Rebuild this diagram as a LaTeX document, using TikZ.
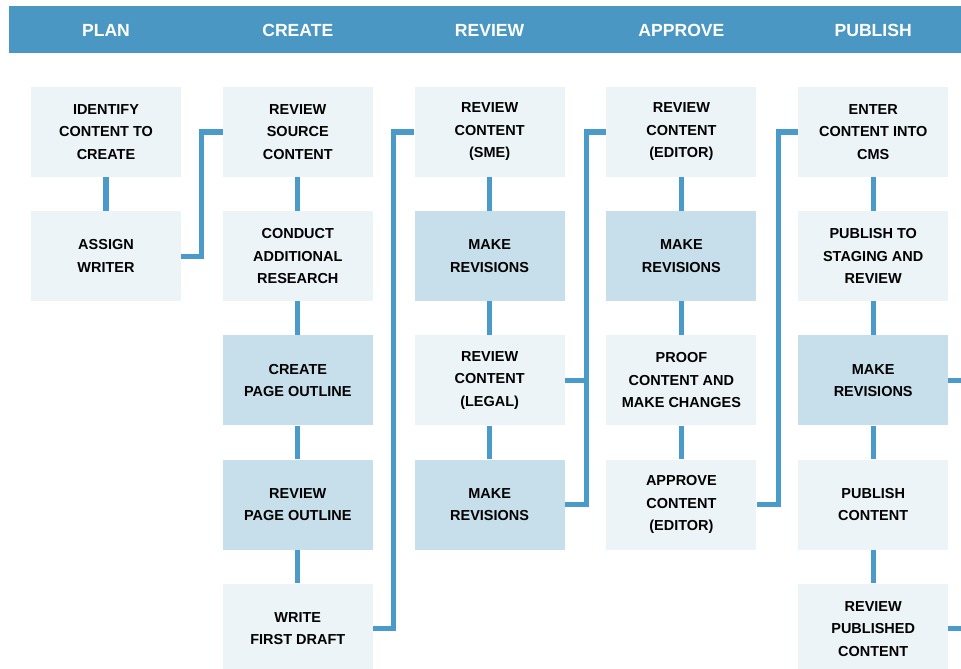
\documentclass[tikz,border=0pt]{standalone}
\usepackage{fontspec}
\setmainfont{Liberation Sans}
\usetikzlibrary{positioning}
\definecolor{bandblue}{RGB}{74,151,195}
\definecolor{paleblue}{RGB}{237,244,248}
\definecolor{softblue}{RGB}{198,223,235}
\definecolor{linkblue}{RGB}{74,155,201}

\tikzset{
  task/.style={rectangle, fill=paleblue, minimum width=3.75cm, minimum height=2.25cm, inner sep=0pt, align=center, font=\fontsize{10.3}{16}\selectfont\bfseries},
  redo/.style={task, fill=softblue},
  phase/.style={text=white, font=\fontsize{12.5}{14}\selectfont\bfseries},
  link/.style={draw=linkblue, line width=3.6pt},
}

\begin{document}
\begin{tikzpicture}[node distance=0.84cm]
\useasboundingbox (0,0) rectangle (24.025,-16.7);
\clip (0,0) rectangle (24.025,-16.7);
\fill[bandblue] (0.225,-0.15) rectangle (24.3,-1.33);
\coordinate (rim) at (24.3,0);

% phases
\node[phase] (hplan) at (2.65,-0.75) {PLAN};
\node[phase] (hcreate) at (7.445,-0.75) {CREATE};
\node[phase] (hreview) at (12.24,-0.75) {REVIEW};
\node[phase] (happrove) at (17.035,-0.75) {APPROVE};
\node[phase] (hpublish) at (21.83,-0.75) {PUBLISH};

% plan
\node[task] (plan1) at (2.65,-3.3) {IDENTIFY\\CONTENT TO\\CREATE};
\node[task, below=of plan1] (plan2) {ASSIGN\\WRITER};

% create
\node[task] (create1) at (7.445,-3.3) {REVIEW\\SOURCE\\CONTENT};
\node[task, below=of create1] (create2) {CONDUCT\\ADDITIONAL\\RESEARCH};
\node[redo, below=of create2] (create3) {CREATE\\PAGE OUTLINE};
\node[redo, below=of create3] (create4) {REVIEW\\PAGE OUTLINE};
\node[task, below=of create4] (create5) {WRITE\\FIRST DRAFT};

% review
\node[task] (review1) at (12.24,-3.3) {REVIEW\\CONTENT\\(SME)};
\node[redo, below=of review1] (review2) {MAKE\\REVISIONS};
\node[task, below=of review2] (review3) {REVIEW\\CONTENT\\(LEGAL)};
\node[redo, below=of review3] (review4) {MAKE\\REVISIONS};

% approve
\node[task] (approve1) at (17.035,-3.3) {REVIEW\\CONTENT\\(EDITOR)};
\node[redo, below=of approve1] (approve2) {MAKE\\REVISIONS};
\node[task, below=of approve2] (approve3) {PROOF\\CONTENT AND\\MAKE CHANGES};
\node[task, below=of approve3] (approve4) {APPROVE\\CONTENT\\(EDITOR)};

% publish
\node[task] (publish1) at (21.83,-3.3) {ENTER\\CONTENT INTO\\CMS};
\node[task, below=of publish1] (publish2) {PUBLISH TO\\STAGING AND\\REVIEW};
\node[redo, below=of publish2] (publish3) {MAKE\\REVISIONS};
\node[task, below=of publish3] (publish4) {PUBLISH\\CONTENT};
\node[task, below=of publish4] (publish5) {REVIEW\\PUBLISHED\\CONTENT};

% links inside columns
\draw[link] (plan1) -- (plan2);
\draw[link] (create1) -- (create2);
\draw[link] (create2) -- (create3);
\draw[link] (create3) -- (create4);
\draw[link] (create4) -- (create5);
\draw[link] (review1) -- (review2);
\draw[link] (review2) -- (review3);
\draw[link] (review3) -- (review4);
\draw[link] (approve1) -- (approve2);
\draw[link] (approve2) -- (approve3);
\draw[link] (approve3) -- (approve4);
\draw[link] (publish1) -- (publish2);
\draw[link] (publish2) -- (publish3);
\draw[link] (publish3) -- (publish4);
\draw[link] (publish4) -- (publish5);

% links between columns
\draw[link] (plan2.east) -- ++(0.51,0) |- (create1.west);
\draw[link] (create5.east) -- ++(0.52,0) |- (review1.west);
\draw[link] (review3.east) -- ++(0.55,0);
\draw[link] (review4.east) -- ++(0.55,0) |- (approve1.west);
\draw[link] (approve4.east) -- ++(0.55,0) |- (publish1.west);
\draw[link] (publish3.east) -- (publish3.east -| rim);
\draw[link] (publish5.east) -- (publish5.east -| rim);
\end{tikzpicture}
\end{document}
